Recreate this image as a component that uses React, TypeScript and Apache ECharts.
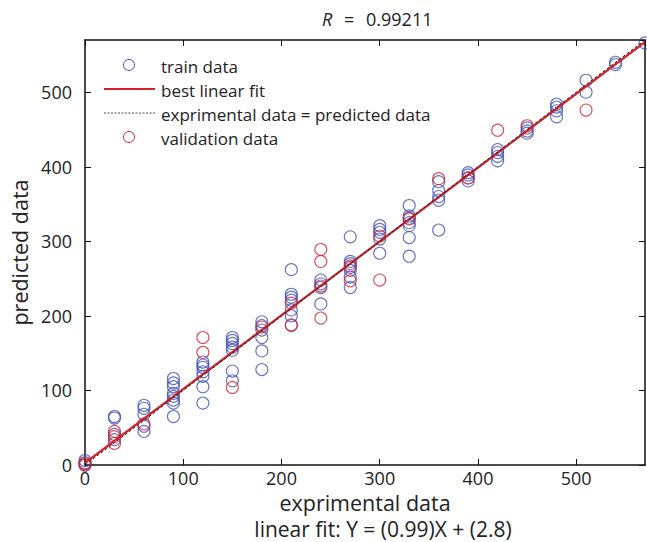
import React, { useEffect, useRef } from "react";
import * as echarts from "echarts";

// x levels (experimental data) and predicted values at each level
const trainLevels = [0, 30, 60, 90, 120, 150, 180, 210, 240, 270, 300, 330, 360, 390, 420, 450, 480, 510, 540, 570];
const trainValues: number[][] = [
  [0, 3, 6],
  [65, 63, 41, 34],
  [80, 76, 68, 52, 45],
  [116, 110, 105, 96, 92, 87, 83, 65],
  [138, 134, 131, 125, 119, 105, 83],
  [171, 167, 163, 158, 154, 126, 113],
  [192, 187, 181, 171, 153, 128],
  [262, 229, 225, 221, 208, 200, 188],
  [248, 243, 238, 216],
  [306, 273, 270, 265, 261, 252, 238],
  [321, 316, 312, 303, 284],
  [348, 334, 331, 325, 321, 305, 280],
  [380, 368, 360, 355, 315],
  [392, 389, 385, 381],
  [423, 419, 414, 408],
  [452, 448, 445],
  [484, 480, 475, 467],
  [516, 500],
  [540, 537],
  [566],
];

const valLevels = [0, 30, 60, 120, 150, 180, 210, 240, 270, 300, 330, 360, 390, 420, 450, 510];
const valValues: number[][] = [
  [0, 2],
  [45, 38, 29],
  [55],
  [171, 151],
  [104],
  [185],
  [217, 187],
  [289, 273, 240, 197],
  [267, 247],
  [307, 248],
  [330],
  [384],
  [385],
  [449],
  [455],
  [476],
];

const fitSlope = 0.99;
const fitIntercept = 2.8;
const axisMin = 0;
const axisMax = 570;
const tickLabels = [0, 100, 200, 300, 400, 500];
const titleR = "0.99211";

const FONT = "'Open Sans', Lato, sans-serif";
const TEXT = "#222";
const BLUE = "#3d4fb3";
const RED = "#d4202c";

function pairs(levels: number[], values: number[][]) {
  const out: number[][] = [];
  levels.forEach((x, i) => values[i].forEach((y) => out.push([x, y])));
  return out;
}

export default function App() {
  const ref = useRef<HTMLDivElement>(null);
  useEffect(() => {
    document.body.style.margin = "0";
    const chart = echarts.init(ref.current!, undefined, { renderer: "svg" });
    const labelFmt = (v: number) => (tickLabels.includes(v) ? String(v) : "");
    const baseAxis = {
      min: axisMin,
      max: axisMax,
      interval: 100,
      splitLine: { show: false },
      axisLine: { show: true, onZero: false, lineStyle: { color: "#111", width: 1.5 } },
      axisTick: { show: true, inside: true, length: 6, lineStyle: { color: "#111", width: 1 } },
    };
    chart.setOption({
      animation: false,
      grid: { left: 85, right: 2, top: 40, bottom: 77, containLabel: false },
      xAxis: [
        {
          ...baseAxis,
          type: "value",
          position: "bottom",
          name: "exprimental data",
          nameLocation: "middle",
          nameGap: 25,
          nameTextStyle: { fontFamily: FONT, fontSize: 21.5, color: TEXT },
          axisLabel: {
            fontFamily: FONT,
            fontSize: 18,
            color: TEXT,
            margin: 4,
            showMaxLabel: false,
            formatter: labelFmt,
          },
        },
        {
          ...baseAxis,
          type: "value",
          position: "top",
          axisLabel: { show: false },
        },
      ],
      yAxis: [
        {
          ...baseAxis,
          type: "value",
          position: "left",
          name: "predicted data",
          nameLocation: "middle",
          nameGap: 44,
          nameTextStyle: { fontFamily: FONT, fontSize: 21.5, color: TEXT },
          axisLabel: {
            fontFamily: FONT,
            fontSize: 18,
            color: TEXT,
            margin: 13,
            showMaxLabel: false,
            formatter: labelFmt,
          },
        },
        {
          ...baseAxis,
          type: "value",
          position: "right",
          axisLabel: { show: false },
        },
      ],
      series: [
        {
          name: "train data",
          type: "scatter",
          data: pairs(trainLevels, trainValues),
          symbol: "circle",
          symbolSize: 12,
          itemStyle: { color: "rgba(0,0,0,0)", borderColor: BLUE, borderWidth: 1.1 },
          z: 2,
        },
        {
          name: "best linear fit",
          type: "line",
          data: [
            [axisMin, fitSlope * axisMin + fitIntercept],
            [axisMax, fitSlope * axisMax + fitIntercept],
          ],
          showSymbol: false,
          symbol: "none",
          lineStyle: { color: RED, width: 2.2 },
          z: 3,
        },
        {
          name: "exprimental data = predicted data",
          type: "line",
          data: [
            [axisMin, axisMin],
            [axisMax, axisMax],
          ],
          showSymbol: false,
          symbol: "none",
          lineStyle: { color: "#222", width: 1, type: [3, 2] },
          z: 4,
        },
        {
          name: "validation data",
          type: "scatter",
          data: pairs(valLevels, valValues),
          symbol: "circle",
          symbolSize: 12,
          itemStyle: { color: "rgba(0,0,0,0)", borderColor: RED, borderWidth: 1.1 },
          z: 5,
        },
      ],
      graphic: [
        {
          type: "text",
          x: 322,
          y: 19,
          style: { text: "R", font: `italic 18px ${FONT}`, fill: TEXT, verticalAlign: "middle" },
        },
        {
          type: "text",
          x: 344,
          y: 19,
          style: { text: "=", font: `18px ${FONT}`, fill: TEXT, verticalAlign: "middle" },
        },
        {
          type: "text",
          x: 366,
          y: 19,
          style: { text: titleR, font: `18px ${FONT}`, fill: TEXT, verticalAlign: "middle" },
        },
        { type: "circle", shape: { cx: 129, cy: 65, r: 5.5 }, style: { fill: "none", stroke: BLUE, lineWidth: 1 } },
        { type: "line", shape: { x1: 104, y1: 89, x2: 155, y2: 89 }, style: { stroke: RED, lineWidth: 2 } },
        { type: "line", shape: { x1: 104, y1: 113, x2: 155, y2: 113 }, style: { stroke: "#222", lineWidth: 0.8, lineDash: [2, 1.5] } },
        { type: "circle", shape: { cx: 129, cy: 137, r: 5.5 }, style: { fill: "none", stroke: RED, lineWidth: 1 } },
        { type: "text", x: 161, y: 66, style: { text: "train data", font: `17px ${FONT}`, fill: TEXT, verticalAlign: "middle" } },
        { type: "text", x: 161, y: 90, style: { text: "best linear fit", font: `17px ${FONT}`, fill: TEXT, verticalAlign: "middle" } },
        { type: "text", x: 161, y: 114, style: { text: "exprimental data = predicted data", font: `17px ${FONT}`, fill: TEXT, verticalAlign: "middle" } },
        { type: "text", x: 161, y: 138, style: { text: "validation data", font: `17px ${FONT}`, fill: TEXT, verticalAlign: "middle" } },
        {
          type: "text",
          x: 383,
          y: 529,
          style: {
            text: `linear fit: Y = (${fitSlope})X + (${fitIntercept})`,
            font: `21px ${FONT}`,
            fill: TEXT,
            align: "center",
            verticalAlign: "middle",
          },
        },
      ],
    });
    return () => chart.dispose();
  }, []);
  return <div ref={ref} style={{ width: 647, height: 542 }} />;
}
